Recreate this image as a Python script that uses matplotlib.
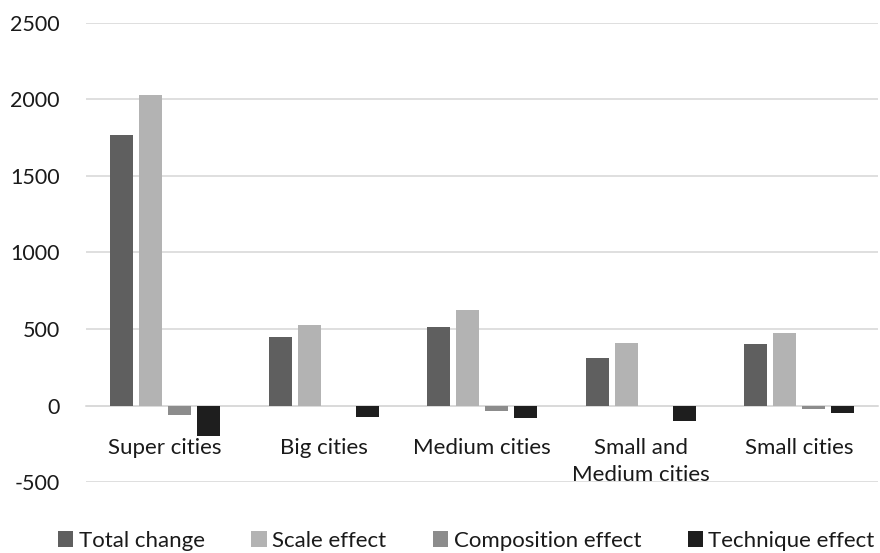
import numpy as np
import matplotlib.pyplot as plt

plt.rcParams['font.family'] = ['Lato', 'DejaVu Sans']
plt.rcParams['axes.unicode_minus'] = False

# city groups and the four decomposition series
cities = ['Super cities', 'Big cities', 'Medium cities', 'Small and\nMedium cities', 'Small cities']
total_change = [1767, 446, 512, 309, 401]
scale_effect = [2026, 525, 627, 409, 472]
composition_effect = [-61, -2, -32, -2, -24]
technique_effect = [-198, -76, -82, -102, -50]

series = [
    ('Total change', total_change, '#5f5f5f'),
    ('Scale effect', scale_effect, '#b3b3b3'),
    ('Composition effect', composition_effect, '#8c8c8c'),
    ('Technique effect', technique_effect, '#1e1e1e'),
]

fig = plt.figure(figsize=(8.8, 5.53), dpi=100)
ax = fig.add_axes([0.0977, 0.1278, 0.9003, 0.8312])

x = np.arange(len(cities))
step = 0.183
width = 0.145
for i, (name, vals, col) in enumerate(series):
    ax.bar(x + (i - 1.5) * step, vals, width, color=col, label=name, zorder=3)

ax.set_ylim(-500, 2500)
ax.set_yticks(np.arange(-500, 2501, 500))
ax.set_xlim(-0.5, len(cities) - 0.5)
ax.grid(axis='y', color='#d9d9d9', linewidth=1.2, zorder=0)

# category axis sits on the zero line
for s in ['top', 'right', 'left']:
    ax.spines[s].set_visible(False)
ax.spines['bottom'].set_position(('data', 0))
ax.spines['bottom'].set_color('#d9d9d9')
ax.spines['bottom'].set_linewidth(1.2)

ax.set_xticks(x)
ax.set_xticklabels(cities, fontsize=16, color='#1a1a1a', linespacing=1.45)
ax.tick_params(axis='x', length=0, pad=23)
ax.tick_params(axis='y', length=0, pad=19, labelsize=15.5, labelcolor='#1a1a1a')

fig.legend(loc='center', bbox_to_anchor=(0.53, 0.022), ncol=4, frameon=False,
           fontsize=16, handlelength=0.68, handleheight=0.68, handletextpad=0.25,
           columnspacing=2.1, labelcolor='#1a1a1a', borderpad=0)

fig.savefig('out.png', dpi=100)
